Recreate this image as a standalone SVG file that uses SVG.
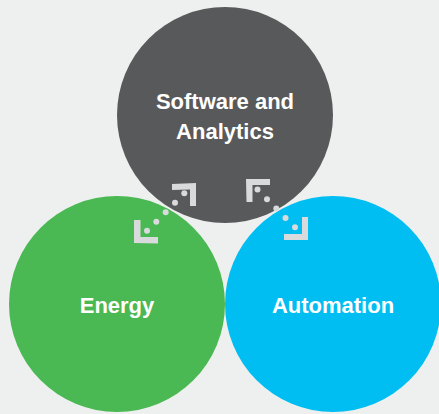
<svg xmlns="http://www.w3.org/2000/svg" width="439" height="414" viewBox="0 0 439 414">
<style>
.lbl{font-family:"Liberation Sans",Arial,sans-serif;font-weight:bold;font-size:22px;fill:#ffffff;text-anchor:middle}
.ic{fill:#d9dadb}
.dot{fill:#d9dadb}
</style>
<rect width="439" height="414" fill="#eef0ef"/>
<g id="software">
<circle cx="225" cy="115" r="108" fill="#58595b"/>
<text class="lbl" x="225" y="109">Software and</text>
<text class="lbl" x="225" y="139">Analytics</text>
</g>
<g id="energy">
<circle cx="117" cy="304" r="108" fill="#4ab853"/>
<text class="lbl" x="117" y="313">Energy</text>
</g>
<g id="automation">
<circle cx="333" cy="304" r="108" fill="#00bef2"/>
<text class="lbl" x="333" y="313">Automation</text>
</g>
<g id="connectors">
<polygon class="ic" points="172,184 196,183 196,206 190,206 190,189.5 172,190"/>
<polygon class="ic" points="134,220 140.5,220 140.5,237 158,237 158,243.5 134,243"/>
<circle class="dot" cx="184.3" cy="193.3" r="3"/>
<circle class="dot" cx="175" cy="202.7" r="3"/>
<circle class="dot" cx="165.7" cy="212.3" r="3"/>
<circle class="dot" cx="156.3" cy="221.7" r="3"/>
<circle class="dot" cx="147" cy="230.7" r="3"/>
<polygon class="ic" points="246,179 270,179 270,185 252.5,185 252.5,202 246.5,202"/>
<polygon class="ic" points="302,217 308,217 308,240 284,240 284,234 302,234"/>
<circle class="dot" cx="257.5" cy="189.5" r="3"/>
<circle class="dot" cx="267" cy="199.3" r="3"/>
<circle class="dot" cx="276.3" cy="208.5" r="3"/>
<circle class="dot" cx="285.5" cy="218" r="3"/>
<circle class="dot" cx="295" cy="227.3" r="3"/>
</g>
</svg>
